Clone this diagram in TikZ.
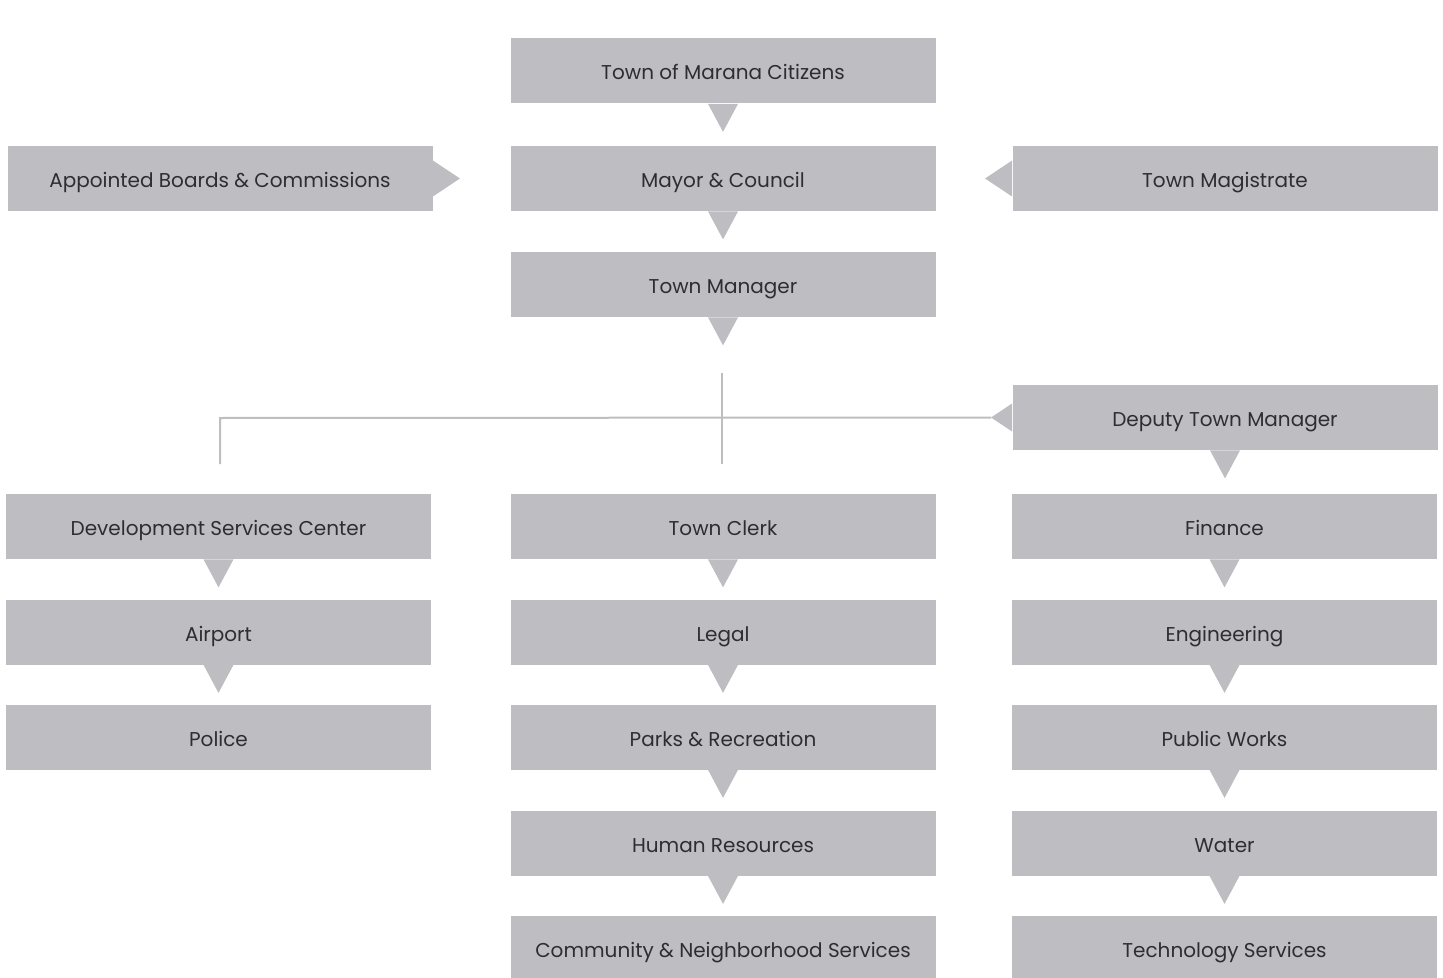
\documentclass[tikz,border=0pt]{standalone}
\usepackage{fontspec}
\setmainfont{Poppins}
\usetikzlibrary{calc}
\definecolor{boxgray}{RGB}{190,190,194}
\definecolor{linegray}{RGB}{190,190,192}
\definecolor{textgray}{RGB}{45,45,50}
\newcommand\dtri[1]{\fill[boxgray] ($(#1.south)+(-15,0)$) -- ($(#1.south)+(15,0)$) -- ($(#1.south)+(0,28)$) -- cycle;}
\begin{document}
\begin{tikzpicture}[x=0.5pt,y=-0.5pt,
  orgbox/.style={fill=boxgray, minimum width=212.5pt, minimum height=32.5pt, inner sep=0pt, text height=10pt, text depth=1pt, text=textgray, font=\fontsize{10}{12}\selectfont},
  conn/.style={draw=linegray, line width=1pt}]
\useasboundingbox (0,0) rectangle (1443,978);
% center column
\node[orgbox] (cit) at (723,71) {Town of Marana Citizens};
\node[orgbox] (may) at (723,178.5) {Mayor \& Council};
\node[orgbox] (tm) at (723,284.5) {Town Manager};
\node[orgbox] (abc) at (220,178.5) {Appointed Boards \& Commissions};
\node[orgbox] (mag) at (1225,178.5) {Town Magistrate};
\node[orgbox] (dtm) at (1225,417.5) {Deputy Town Manager};
% left column
\node[orgbox] (dsc) at (218.5,526.5) {Development Services Center};
\node[orgbox] (air) at (218.5,632) {Airport};
\node[orgbox] (pol) at (218.5,737) {Police};
% center column lower
\node[orgbox] (clk) at (723,526.5) {Town Clerk};
\node[orgbox] (leg) at (723,632) {Legal};
\node[orgbox] (par) at (723,737) {Parks \& Recreation};
\node[orgbox] (hr) at (723,843) {Human Resources};
\node[orgbox] (cns) at (723,948.5) {Community \& Neighborhood Services};
% right column
\node[orgbox] (fin) at (1224.5,526.5) {Finance};
\node[orgbox] (eng) at (1224.5,632) {Engineering};
\node[orgbox] (pw) at (1224.5,737) {Public Works};
\node[orgbox] (wat) at (1224.5,843) {Water};
\node[orgbox] (tec) at (1224.5,948.5) {Technology Services};
% down triangles
\dtri{cit}\dtri{may}\dtri{tm}\dtri{dtm}
\dtri{dsc}\dtri{air}
\dtri{clk}\dtri{leg}\dtri{par}\dtri{hr}
\dtri{fin}\dtri{eng}\dtri{pw}\dtri{wat}
% side triangles
\fill[boxgray] ($(abc.east)+(0,-18)$) -- ($(abc.east)+(27,0)$) -- ($(abc.east)+(0,18)$) -- cycle;
\fill[boxgray] ($(mag.west)+(0,-18)$) -- ($(mag.west)+(-27,0)$) -- ($(mag.west)+(0,18)$) -- cycle;
\fill[boxgray] ($(dtm.west)+(0,-14)$) -- ($(dtm.west)+(-21,0)$) -- ($(dtm.west)+(0,14)$) -- cycle;
% connectors
\coordinate (vt) at (722,373);
\coordinate (vb) at (722,464);
\coordinate (hl) at (220,418);
\coordinate (lb) at (220,464);
\coordinate (dtip) at ($(dtm.west)+(-21,0)$);
\draw[conn] (vt) -- (vb);
\draw[conn] (lb) -- (hl) -- (dtip);
\end{tikzpicture}
\end{document}
